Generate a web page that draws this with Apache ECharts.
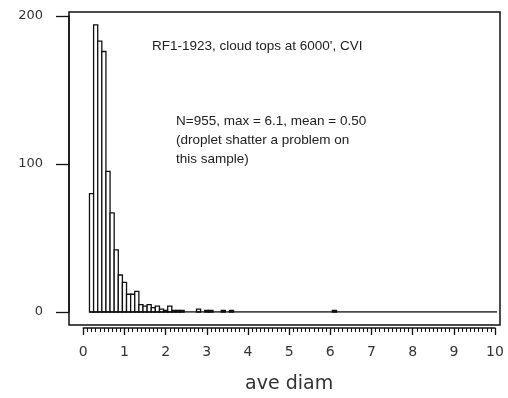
<!DOCTYPE html>
<html>
<head>
<meta charset="utf-8">
<script src="https://cdn.jsdelivr.net/npm/echarts@6/dist/echarts.min.js"></script>
<style>
  html, body { margin: 0; padding: 0; background: #fff; }
  #chart { width: 508px; height: 398px; }
</style>
</head>
<body>
<div id="chart"></div>
<script>
// histogram of droplet diameters, bins 0.1 wide, keyed by bin centre
var diam = [0.2, 0.3, 0.4, 0.5, 0.6, 0.7, 0.8, 0.9, 1.0, 1.1, 1.2, 1.3, 1.4, 1.5, 1.6, 1.7,
            1.8, 1.9, 2.0, 2.1, 2.2, 2.3, 2.4, 2.8, 3.0, 3.1, 3.4, 3.6, 6.1];
var count = [80, 194, 183, 176, 95, 67, 42, 25, 20, 12, 12, 14, 5, 4, 5, 3,
             4, 2, 1, 4, 1, 1, 1, 2, 1, 1, 1, 1, 1];
var binWidth = 0.1;
var binRange = [0.15, 10.05];   // extent of the histogram baseline

var xTicks = [0, 1, 2, 3, 4, 5, 6, 7, 8, 9, 10];
var yTicks = [0, 100, 200];

var notes = [
    'RF1-1923, cloud tops at 6000\', CVI',
    'N=955, max = 6.1, mean = 0.50',
    '(droplet shatter a problem on',
    'this sample)'
];

var bins = diam.map(function (d, i) {
    return [d - binWidth / 2, d + binWidth / 2, count[i]];
});

var chart = echarts.init(document.getElementById('chart'));
var option = {
    animation: false,
    backgroundColor: '#fff',
    grid: { left: 83.3, right: 13, top: 16, bottom: 86, outerBoundsMode: 'none', containLabel: false },
    xAxis: {
        type: 'value',
        min: xTicks[0],
        max: xTicks[xTicks.length - 1],
        interval: 1,
        offset: 16,
        splitLine: { show: false },
        axisLine: { onZero: false, lineStyle: { color: '#111', width: 1.5 } },
        axisTick: { length: 7, lineStyle: { color: '#111', width: 1.3 } },
        minorTick: { show: true, splitNumber: 10, length: 4, lineStyle: { color: '#111', width: 1 } },
        axisLabel: { margin: 17, fontSize: 14, color: '#333', fontFamily: 'DejaVu Sans' },
        name: 'ave diam',
        nameLocation: 'middle',
        nameGap: 47,
        nameTextStyle: { fontSize: 19, color: '#333', fontFamily: 'DejaVu Sans' }
    },
    yAxis: {
        type: 'value',
        min: yTicks[0],
        max: yTicks[yTicks.length - 1],
        interval: 100,
        offset: 14.3,
        splitLine: { show: false },
        axisLine: { show: true, onZero: false, lineStyle: { color: '#111', width: 1.5 } },
        axisTick: { show: true, length: 13, lineStyle: { color: '#111', width: 1.3 } },
        axisLabel: { margin: 26, fontSize: 13, color: '#333', fontFamily: 'DejaVu Sans' }
    },
    graphic: [
        {
            type: 'rect', silent: true, z: 10,
            shape: { x: 69, y: 12, width: 431, height: 313 },
            style: { fill: 'none', stroke: '#111', lineWidth: 1.5 }
        },
        {
            type: 'text', left: 152, top: 39,
            style: { text: notes[0], fontSize: 13.5, fontFamily: 'Liberation Sans', fill: '#222' }
        },
        {
            type: 'text', left: 176, top: 112,
            style: {
                text: notes.slice(1).join('\n'), fontSize: 13.5, lineHeight: 19,
                fontFamily: 'Liberation Sans', fill: '#222'
            }
        }
    ],
    series: [
        {
            type: 'line',
            data: [[binRange[0], 0], [binRange[1], 0]],
            symbol: 'none',
            lineStyle: { color: '#111', width: 1.5 },
            z: 3
        },
        {
            type: 'custom',
            data: bins,
            encode: { x: [0, 1], y: 2 },
            renderItem: function (params, api) {
                var p0 = api.coord([api.value(0), api.value(2)]);
                var p1 = api.coord([api.value(1), 0]);
                return {
                    type: 'rect',
                    shape: { x: p0[0], y: p0[1], width: p1[0] - p0[0], height: p1[1] - p0[1] },
                    style: { fill: '#fff', stroke: '#111', lineWidth: 1.3 }
                };
            },
            z: 2
        }
    ]
};
chart.setOption(option);
</script>
</body>
</html>
